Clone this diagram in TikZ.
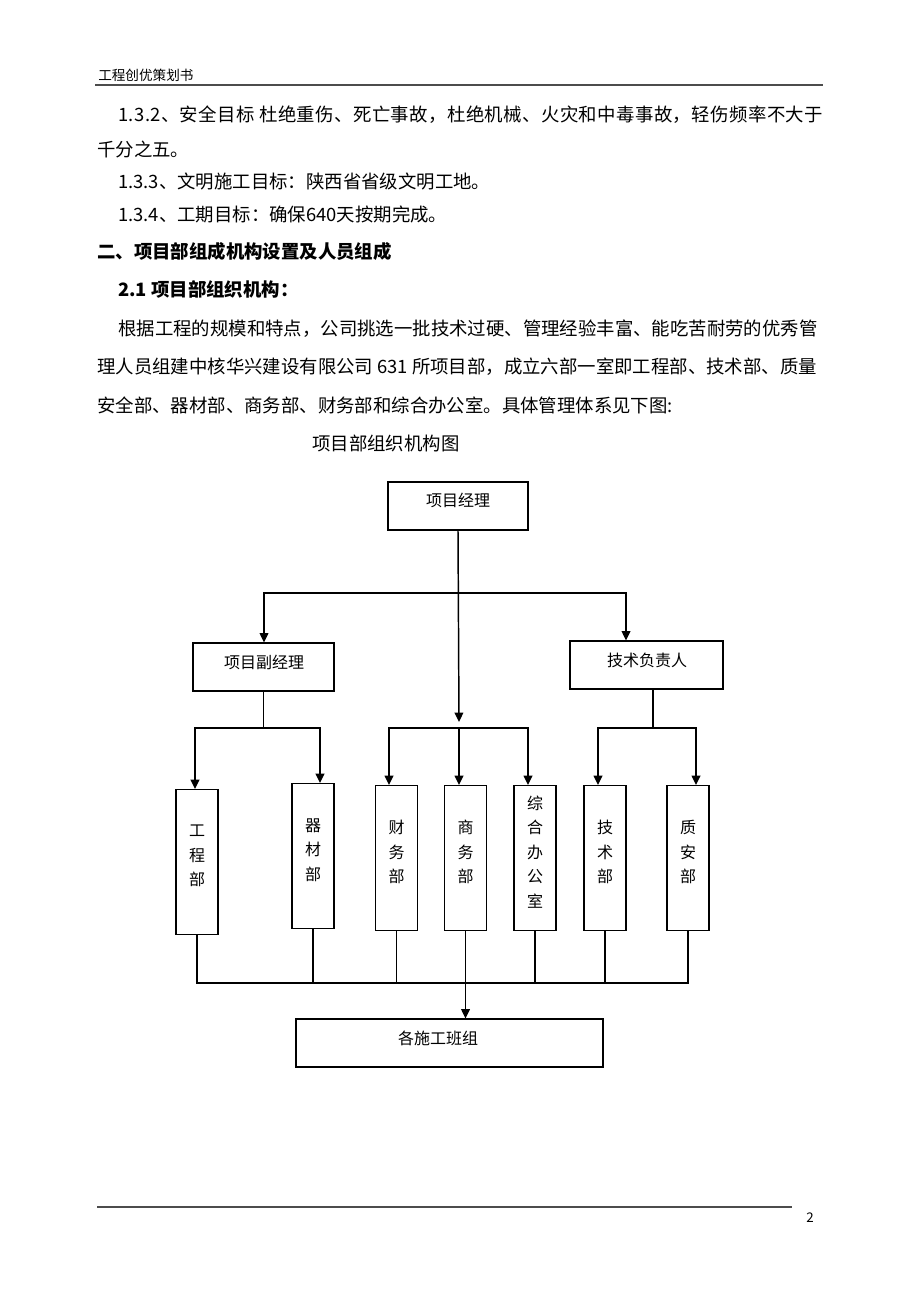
\documentclass[tikz,border=0pt]{standalone}
\usepackage{fontspec}
\setmainfont{Noto Sans CJK SC}
\usetikzlibrary{arrows.meta}

\begin{document}
\begin{tikzpicture}[x = 0.75pt, y = -0.75pt, > = {Triangle[width = 6.5pt, length = 7pt]},
	box/.style = {draw, line width = 0.8pt, inner sep = 0pt},
	headbox/.style = {box, minimum height = 36pt},
	deptbox/.style = {box, minimum width = 31.5pt, minimum height = 108.75pt},
	boxtext/.style = {inner sep = 0pt, align = center, font = \fontsize{12}{18.4}\selectfont},
	body/.style = {anchor = west, inner sep = 0pt, font = \fontsize{13.8}{16}\selectfont},
	arrline/.style = {line width = 1.1pt},
	thinline/.style = {line width = 0.8pt}]

	\useasboundingbox (0, 0) rectangle (920, 1302);

	% Page header and footer

	\node [anchor = west, inner sep = 0pt, font = \fontsize{10.2}{12}\selectfont] (head) at (98, 75) {工程创优策划书};
	\draw [line width = 1.1pt, gray!60!black] (95, 85) -- (823, 85);
	\draw [line width = 0.8pt, gray!60!black] (97, 1207) -- (792, 1207);
	\node [inner sep = 0pt, font = \fontsize{10}{12}\selectfont] (page) at (810, 1218) {2};

	% Text lines

	\node [body, font = \fontsize{13.8}{16}\selectfont\addfontfeature{LetterSpace = 2.2}] (l1) at (118, 115) {1.3.2、安全目标 杜绝重伤、死亡事故，杜绝机械、火灾和中毒事故，轻伤频率不大于};
	\node [body] (l2) at (97, 149) {千分之五。};
	\node [body] (l3) at (118, 182) {1.3.3、文明施工目标：陕西省省级文明工地。};
	\node [body] (l4) at (118, 214) {1.3.4、工期目标：确保640天按期完成。};
	\node [body, font = \fontsize{13.8}{16}\selectfont\bfseries] (h2) at (97, 251) {二、项目部组成机构设置及人员组成};
	\node [body, font = \fontsize{13.8}{16}\selectfont\bfseries] (h21) at (118, 289) {2.1 项目部组织机构：};
	\node [body] (p1) at (118, 329) {根据工程的规模和特点，公司挑选一批技术过硬、管理经验丰富、能吃苦耐劳的优秀管};
	\node [body] (p2) at (97, 367) {理人员组建中核华兴建设有限公司 631 所项目部，成立六部一室即工程部、技术部、质量};
	\node [body] (p3) at (97, 405) {安全部、器材部、商务部、财务部和综合办公室。具体管理体系见下图:};
	\node [body] (cap) at (312, 443) {项目部组织机构图};

	% Head boxes

	\node [headbox, minimum width = 105pt] (pm) at (458, 506) {};
	\node [boxtext] (pmt) at (458, 500) {项目经理};
	\node [headbox, minimum width = 105.75pt] (dpm) at (263.5, 667) {};
	\node [boxtext] (dpmt) at (264, 662) {项目副经理};
	\node [headbox, minimum width = 114.75pt] (tech) at (646.5, 665) {};
	\node [boxtext] (techt) at (647, 660) {技术负责人};

	% Department boxes

	\foreach \n/\x/\t/\txt in {gcb/197/789/{工\\程\\部}, qcb/313/783/{器\\材\\部}, cwb/396.5/785/{财\\务\\部},
			swb/465.5/785/{商\\务\\部}, zhb/535/785/{综\\合\\办\\公\\室}, jsb/605/785/{技\\术\\部}, zab/688/785/{质\\安\\部}}
	{
		\node [deptbox, anchor = north] (\n) at (\x, \t) {};
		\node [boxtext] (\n t) at ([yshift = 4.5pt] \n.center) {\txt};
	}

	% Team box

	\node [headbox, minimum width = 230.25pt] (team) at (449.5, 1043) {};
	\node [boxtext] (teamt) at (438, 1038) {各施工班组};

	% Top level connectors

	\coordinate (tl) at (264, 593);
	\coordinate (tr) at (626, 593);
	\coordinate (mid) at (459, 722);
	\draw [arrline, ->] (pm.south) -- (mid);
	\draw [arrline, <->] (tl |- dpm.north) -- (tl) -- (tr) -- (tr |- tech.north);

	% Second level connectors

	\coordinate (lbl) at (195, 728);
	\coordinate (lbr) at (320, 728);
	\coordinate (cbl) at (389, 728);
	\coordinate (cbm) at (459, 728);
	\coordinate (cbr) at (528, 728);
	\coordinate (rj) at (653, 728);
	\coordinate (rbl) at (598, 728);
	\coordinate (rbr) at (696, 728);

	\draw [arrline] (dpm.south) -- (dpm.south |- lbl);
	\draw [arrline, <->] (lbl |- gcb.north) -- (lbl) -- (lbr) -- (lbr |- qcb.north);
	\draw [arrline, <->] (cbl |- cwb.north) -- (cbl) -- (cbr) -- (cbr |- zhb.north);
	\draw [arrline, ->] (cbm) -- (cbm |- swb.north);
	\draw [thinline] (rj |- tech.south) -- (rj);
	\draw [arrline, <->] (rbl |- jsb.north) -- (rbl) -- (rbr) -- (rbr |- zab.north);

	% Bottom bus

	\coordinate (bus) at (0, 983);
	\draw [thinline] (gcb.south) -- (gcb.south |- bus) -- (zab.south |- bus) -- (zab.south);
	\foreach \n in {qcb, cwb, zhb, jsb}
		\draw [thinline] (\n.south) -- (\n.south |- bus);
	\draw [arrline, ->] (swb.south) -- (swb.south |- team.north);

\end{tikzpicture}
\end{document}
